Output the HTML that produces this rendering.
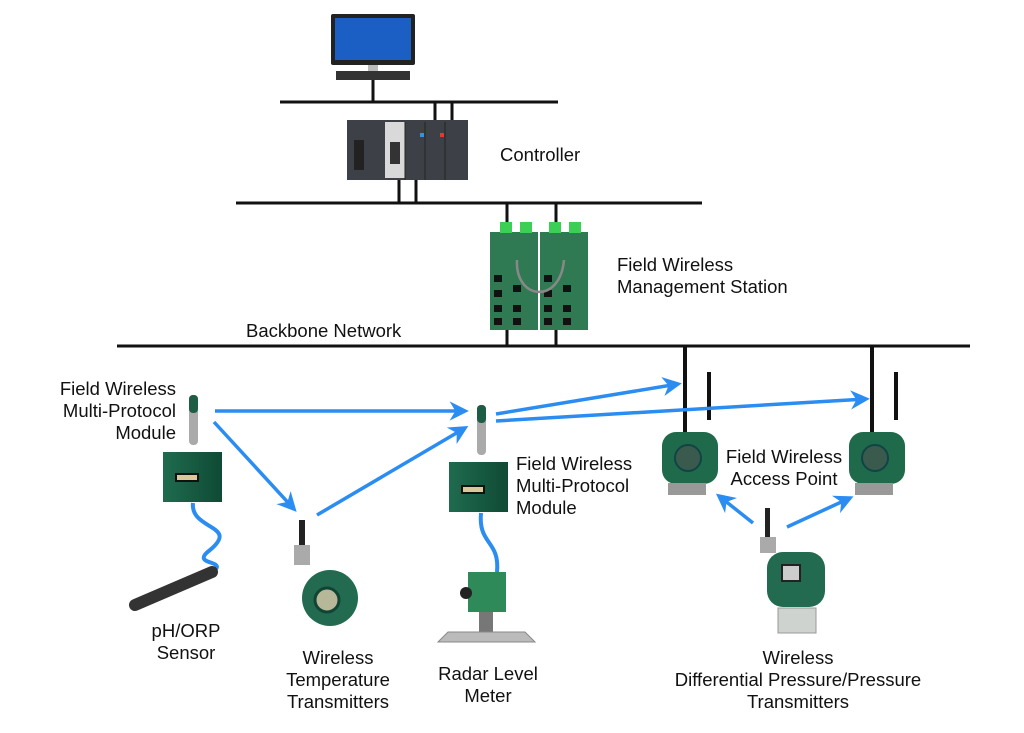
<!DOCTYPE html>
<html><head><meta charset="utf-8"><style>
html,body{margin:0;padding:0;background:#fff}
svg{display:block}
text{font-family:"Liberation Sans",sans-serif;font-size:18.5px;fill:#111}
</style></head><body>
<svg width="1024" height="733" viewBox="0 0 1024 733" xmlns="http://www.w3.org/2000/svg">
<defs>
<marker id="a" viewBox="0 0 10 10" refX="8" refY="5" markerWidth="5.5" markerHeight="5.5" orient="auto"><path d="M0,0 L10,5 L0,10 L3,5 z" fill="#2b8cf2"/></marker>
<linearGradient id="grn" x1="0" x2="1"><stop offset="0" stop-color="#1f6b4f"/><stop offset="1" stop-color="#0f4a35"/></linearGradient>
</defs>
<g stroke="#111" stroke-width="3" fill="none">
<line x1="280" y1="102" x2="558" y2="102"/>
<line x1="373" y1="80" x2="373" y2="102"/>
<line x1="435" y1="102" x2="435" y2="120"/>
<line x1="452" y1="102" x2="452" y2="120"/>
<line x1="236" y1="203" x2="702" y2="203"/>
<line x1="399" y1="180" x2="399" y2="203"/>
<line x1="416" y1="180" x2="416" y2="203"/>
<line x1="507" y1="203" x2="507" y2="224"/>
<line x1="556" y1="203" x2="556" y2="224"/>
<line x1="507" y1="328" x2="507" y2="346"/>
<line x1="556" y1="328" x2="556" y2="346"/>
<line x1="117" y1="346" x2="970" y2="346"/>
<line x1="685" y1="346" x2="685" y2="434" stroke-width="4"/>
<line x1="872" y1="346" x2="872" y2="434" stroke-width="4"/>
<line x1="709" y1="372" x2="709" y2="420" stroke-width="4"/>
<line x1="896" y1="372" x2="896" y2="420" stroke-width="4"/>
</g>
<rect x="331" y="14" width="84" height="51" rx="2" fill="#222"/>
<rect x="335" y="18" width="76" height="42" fill="#1c5fc4"/>
<rect x="368" y="65" width="10" height="6" fill="#bbb"/>
<rect x="336" y="71" width="74" height="9" fill="#333"/>
<rect x="347" y="120" width="121" height="60" fill="#3d4147"/>
<rect x="385" y="122" width="20" height="56" fill="#d9d9d9"/>
<rect x="390" y="142" width="10" height="22" fill="#333"/>
<rect x="354" y="140" width="10" height="30" fill="#222"/>
<line x1="405" y1="122" x2="405" y2="180" stroke="#222"/>
<line x1="425" y1="122" x2="425" y2="180" stroke="#222"/>
<line x1="445" y1="122" x2="445" y2="180" stroke="#222"/>
<rect x="420" y="133" width="4" height="4" fill="#3a8ee6"/>
<rect x="440" y="133" width="4" height="4" fill="#e33"/>
<g>
<rect x="490" y="232" width="48" height="98" fill="#2f7a52"/>
<rect x="540" y="232" width="48" height="98" fill="#2f7a52"/>
<rect x="500" y="222" width="12" height="11" fill="#3ccf55"/>
<rect x="520" y="222" width="12" height="11" fill="#3ccf55"/>
<rect x="549" y="222" width="12" height="11" fill="#3ccf55"/>
<rect x="569" y="222" width="12" height="11" fill="#3ccf55"/>
<g fill="#111">
<rect x="494" y="275" width="8" height="7"/><rect x="494" y="290" width="8" height="7"/><rect x="494" y="305" width="8" height="7"/><rect x="494" y="318" width="8" height="7"/>
<rect x="513" y="285" width="8" height="7"/><rect x="513" y="305" width="8" height="7"/><rect x="513" y="318" width="8" height="7"/>
<rect x="544" y="275" width="8" height="7"/><rect x="544" y="290" width="8" height="7"/><rect x="544" y="305" width="8" height="7"/><rect x="544" y="318" width="8" height="7"/>
<rect x="563" y="285" width="8" height="7"/><rect x="563" y="305" width="8" height="7"/><rect x="563" y="318" width="8" height="7"/>
</g>
<path d="M517,260 C515,300 560,305 564,260" stroke="#888" stroke-width="2.5" fill="none"/>
</g>
<rect x="189" y="395" width="9" height="50" rx="4" fill="#aaa"/>
<rect x="189" y="395" width="9" height="18" rx="4" fill="#1e5d45"/>
<rect x="163" y="452" width="59" height="50" fill="url(#grn)"/>
<rect x="176" y="474" width="22" height="7" fill="#d9c99a" stroke="#111" stroke-width="2"/>
<path d="M193,503 C190,530 240,525 210,550 C190,565 225,560 215,570" stroke="#2b8cf2" stroke-width="4" fill="none"/>
<path d="M212,572 L135,605" stroke="#333" stroke-width="12" stroke-linecap="round"/>
<rect x="477" y="405" width="9" height="50" rx="4" fill="#aaa"/>
<rect x="477" y="405" width="9" height="18" rx="4" fill="#1e5d45"/>
<rect x="449" y="462" width="59" height="50" fill="url(#grn)"/>
<rect x="462" y="486" width="22" height="7" fill="#d9c99a" stroke="#111" stroke-width="2"/>
<path d="M481,513 C478,545 500,540 497,572" stroke="#2b8cf2" stroke-width="4" fill="none"/>
<rect x="468" y="572" width="38" height="40" fill="#2e8a58"/>
<circle cx="466" cy="593" r="6" fill="#222"/>
<rect x="479" y="612" width="14" height="20" fill="#777"/>
<path d="M438,642 L448,632 L525,632 L535,642 Z" fill="#bbb" stroke="#888"/>
<rect x="299" y="520" width="6" height="25" fill="#222"/>
<rect x="294" y="545" width="16" height="20" fill="#aaa"/>
<circle cx="330" cy="598" r="28" fill="#226b50"/>
<circle cx="327" cy="600" r="12" fill="#b7b79a" stroke="#143" stroke-width="3"/>
<g>
<rect x="662" y="432" width="56" height="52" rx="14" fill="#1f6a4a"/>
<circle cx="688" cy="458" r="13" fill="#3a5a4e" stroke="#144" stroke-width="2"/>
<rect x="668" y="483" width="38" height="12" fill="#999"/>
<rect x="849" y="432" width="56" height="52" rx="14" fill="#1f6a4a"/>
<circle cx="875" cy="458" r="13" fill="#3a5a4e" stroke="#144" stroke-width="2"/>
<rect x="855" y="483" width="38" height="12" fill="#999"/>
</g>
<rect x="765" y="508" width="5" height="30" fill="#222"/>
<rect x="760" y="537" width="16" height="16" fill="#aaa"/>
<rect x="767" y="552" width="58" height="55" rx="16" fill="#226b50"/>
<rect x="782" y="565" width="18" height="16" fill="#ccc" stroke="#222" stroke-width="2"/>
<rect x="778" y="608" width="38" height="25" fill="#cfd3d0" stroke="#999"/>
<g stroke="#2b8cf2" stroke-width="3.5" fill="none" marker-end="url(#a)">
<line x1="215" y1="411" x2="465" y2="411"/>
<line x1="214" y1="422" x2="294" y2="509"/>
<line x1="317" y1="515" x2="465" y2="428"/>
<line x1="496" y1="414" x2="678" y2="384"/>
<line x1="496" y1="421" x2="866" y2="399"/>
<line x1="753" y1="523" x2="719" y2="496"/>
<line x1="787" y1="527" x2="850" y2="498"/>
</g>
<text x="500" y="161">Controller</text>
<text x="617" y="271">Field Wireless</text>
<text x="617" y="293">Management Station</text>
<text x="246" y="337">Backbone Network</text>
<g text-anchor="end">
<text x="176" y="395">Field Wireless</text>
<text x="176" y="417">Multi-Protocol</text>
<text x="176" y="439">Module</text>
</g>
<text x="516" y="470">Field Wireless</text>
<text x="516" y="492">Multi-Protocol</text>
<text x="516" y="514">Module</text>
<g text-anchor="middle">
<text x="784" y="463">Field Wireless</text>
<text x="784" y="485">Access Point</text>
<text x="186" y="637">pH/ORP</text>
<text x="186" y="659">Sensor</text>
<text x="338" y="664">Wireless</text>
<text x="338" y="686">Temperature</text>
<text x="338" y="708">Transmitters</text>
<text x="488" y="680">Radar Level</text>
<text x="488" y="702">Meter</text>
<text x="798" y="664">Wireless</text>
<text x="798" y="686">Differential Pressure/Pressure</text>
<text x="798" y="708">Transmitters</text>
</g>
</svg>
</body></html>
